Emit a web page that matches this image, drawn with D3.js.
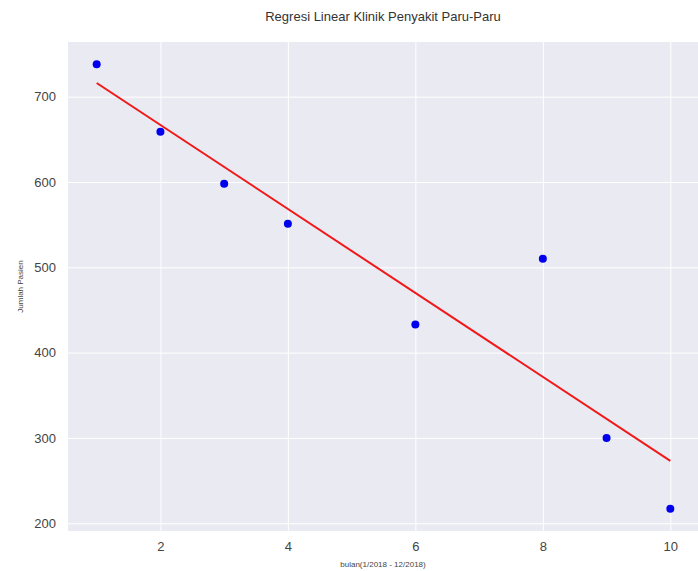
<!DOCTYPE html>
<html>
<head>
<meta charset="utf-8">
<script src="https://cdn.jsdelivr.net/npm/d3@7"></script>
<style>
  html, body { margin: 0; padding: 0; background: #ffffff; }
  svg { display: block; font-family: "Liberation Sans", Arial, sans-serif; }
</style>
</head>
<body>
<svg id="chart" width="698" height="571"></svg>
<script>
// Monthly patient counts at the lung clinic
const months = [1, 2, 3, 4, 6, 8, 9, 10];
const patients = [738, 659, 598, 551, 433, 510, 300, 217];
const xTicks = [2, 4, 6, 8, 10];
const yTicks = [200, 300, 400, 500, 600, 700];

const titleText = "Regresi Linear Klinik Penyakit Paru-Paru";
const xLabel = "bulan(1/2018 - 12/2018)";
const yLabel = "Jumlah Pasien";

// Ordinary least squares fit of patients against month
const n = months.length;
const mx = d3.mean(months), my = d3.mean(patients);
const sxy = d3.sum(months, (x, i) => (x - mx) * (patients[i] - my));
const sxx = d3.sum(months, x => (x - mx) * (x - mx));
const slope = sxy / sxx;
const intercept = my - slope * mx;
const fitted = months.map(x => intercept + slope * x);

const svg = d3.select("#chart");
const plot = { left: 68, right: 699, top: 42, bottom: 531 };

// 5% padding around the data, as in the usual plotting defaults
function padded(ext) {
  const span = ext[1] - ext[0];
  return [ext[0] - span * 0.05, ext[1] + span * 0.05];
}
const x = d3.scaleLinear().domain(padded(d3.extent(months))).range([plot.left, plot.right]);
const y = d3.scaleLinear().domain(padded(d3.extent(patients.concat(fitted)))).range([plot.bottom, plot.top]);

// plot background
svg.append("rect")
  .attr("x", plot.left).attr("y", plot.top)
  .attr("width", plot.right - plot.left).attr("height", plot.bottom - plot.top)
  .attr("fill", "#eaeaf2");

// grid lines
const gx = svg.append("g")
  .attr("transform", `translate(0,${plot.bottom})`)
  .call(d3.axisBottom(x).tickValues(xTicks).tickSize(-(plot.bottom - plot.top)).tickPadding(11).tickFormat(d3.format("d")));
gx.select(".domain").remove();
gx.selectAll(".tick line").attr("stroke", "#ffffff").attr("stroke-width", 1);
gx.selectAll(".tick text").attr("fill", "#444444").attr("font-size", "13px");

const gy = svg.append("g")
  .attr("transform", `translate(${plot.left},0)`)
  .call(d3.axisLeft(y).tickValues(yTicks).tickSize(-(plot.right - plot.left)).tickPadding(12).tickFormat(d3.format("d")));
gy.select(".domain").remove();
gy.selectAll(".tick line").attr("stroke", "#ffffff").attr("stroke-width", 1);
gy.selectAll(".tick text").attr("fill", "#444444").attr("font-size", "13px");

// regression line
svg.append("line")
  .attr("x1", x(months[0])).attr("y1", y(fitted[0]))
  .attr("x2", x(months[n - 1])).attr("y2", y(fitted[n - 1]))
  .attr("stroke", "#f01818").attr("stroke-width", 2);

// observed points
svg.append("g").selectAll("circle")
  .data(months)
  .join("circle")
  .attr("cx", d => x(d))
  .attr("cy", (d, i) => y(patients[i]))
  .attr("r", 4)
  .attr("fill", "#0000ee");

// title and axis labels
svg.append("text")
  .attr("x", 383).attr("y", 21)
  .attr("text-anchor", "middle")
  .attr("font-size", "13px").attr("fill", "#333333")
  .text(titleText);

svg.append("text")
  .attr("x", 383).attr("y", 567)
  .attr("text-anchor", "middle")
  .attr("font-size", "8px").attr("fill", "#444444")
  .text(xLabel);

svg.append("text")
  .attr("transform", `translate(23,${(plot.top + plot.bottom) / 2}) rotate(-90)`)
  .attr("text-anchor", "middle")
  .attr("font-size", "8px").attr("fill", "#444444")
  .text(yLabel);
</script>
</body>
</html>
